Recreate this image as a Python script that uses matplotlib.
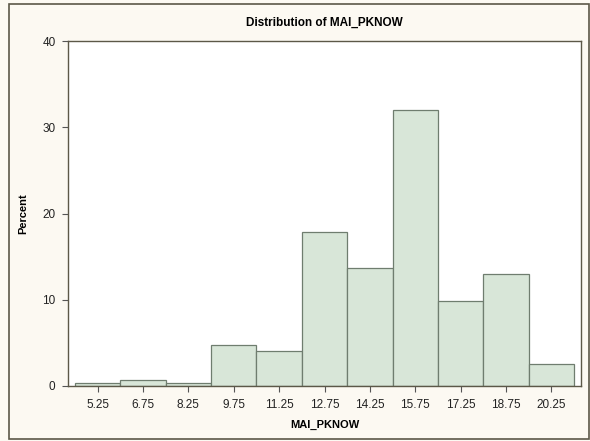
import matplotlib.pyplot as plt
from matplotlib.patches import Rectangle

plt.rcParams['font.family'] = ['Liberation Sans', 'DejaVu Sans']

# Bin midpoints and percentages
bin_mids = [5.25, 6.75, 8.25, 9.75, 11.25, 12.75, 14.25, 15.75, 17.25, 18.75, 20.25]
percents = [0.3, 0.7, 0.3, 4.8, 4.1, 17.8, 13.7, 32.0, 9.9, 13.0, 2.6]
bin_width = 1.5
y_ticks = [0, 10, 20, 30, 40]

fig = plt.figure(figsize=(5.9, 4.41), dpi=100)
fig.patch.set_facecolor('#fcf9f2')
ax = fig.add_axes([68/590, 1 - 386/441, (581 - 68)/590, (386 - 41)/441])
ax.set_facecolor('white')

ax.bar(bin_mids, percents, width=bin_width, color='#d8e6d8',
       edgecolor='#6f7d6f', linewidth=0.9)

ax.set_xlim(4.27, 21.23)
ax.set_ylim(0, 40)
ax.set_xticks(bin_mids)
ax.set_xticklabels([f'{v:.2f}' for v in bin_mids])
ax.set_yticks(y_ticks)
ax.tick_params(length=4, width=0.8, color='#555555', labelsize=8.5,
               labelcolor='#222222', pad=5)

for s in ax.spines.values():
    s.set_color('#5c5848')
    s.set_linewidth(1.0)

ax.set_title('Distribution of MAI_PKNOW', fontsize=8.5, fontweight='bold', pad=11)
ax.set_xlabel('MAI_PKNOW', fontsize=8, fontweight='bold', labelpad=7)
ax.set_ylabel('Percent', fontsize=8, fontweight='bold', labelpad=10)

# outer border
fig.patches.append(Rectangle((9/590, 2/441), 580/590, 435/441, transform=fig.transFigure,
                             fill=False, edgecolor='#5c5848', linewidth=1.2))

fig.savefig('out.png', dpi=100, facecolor=fig.get_facecolor())
